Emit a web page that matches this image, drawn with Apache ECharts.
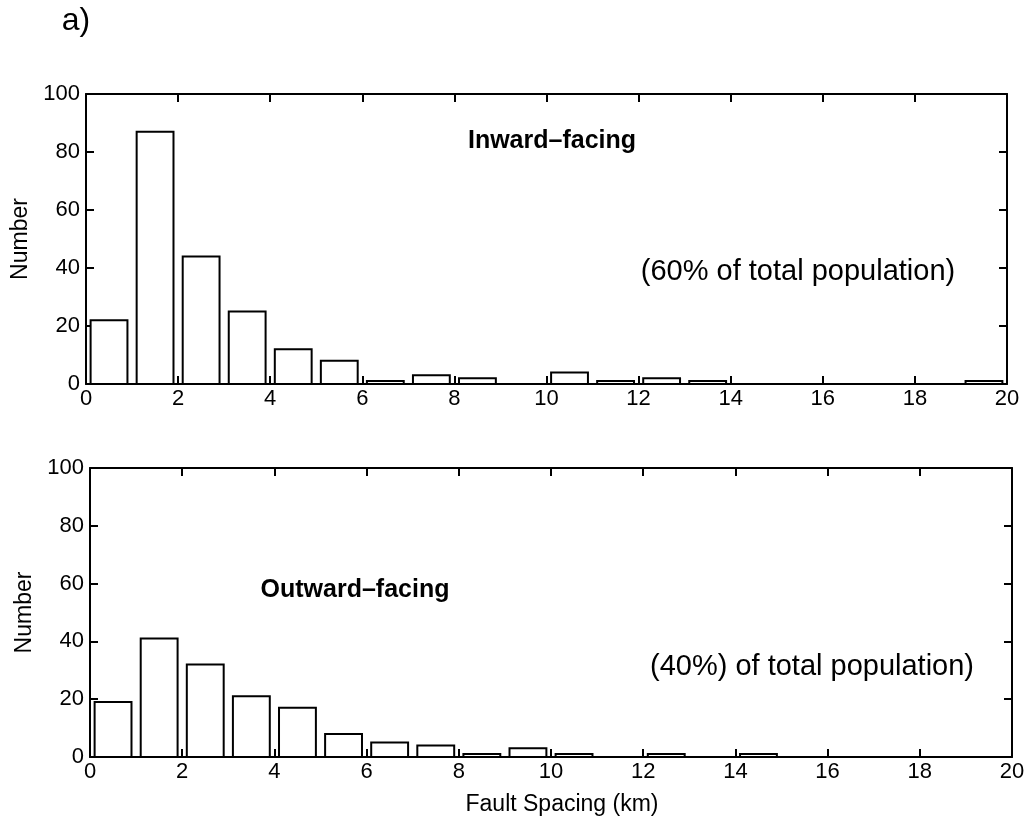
<!DOCTYPE html>
<html>
<head>
<meta charset="utf-8">
<script src="https://cdn.jsdelivr.net/npm/echarts@6/dist/echarts.min.js"></script>
<style>
html,body{margin:0;padding:0;background:#fff;}
#chart{width:1029px;height:824px;}
</style>
</head>
<body>
<div id="chart"></div>
<script>
// Bin centres (km) for the histograms
const binCenters = [0.5,1.5,2.5,3.5,4.5,5.5,6.5,7.5,8.5,9.5,10.5,11.5,12.5,13.5,14.5,15.5,16.5,17.5,18.5,19.5];
// Inward-facing fault spacing counts
const inwardCounts = [22,87,44,25,12,8,1,3,2,0,4,1,2,1,0,0,0,0,0,1];
// Outward-facing fault spacing counts
const outwardCounts = [19,41,32,21,17,8,5,4,1,3,1,0,1,0,1,0,0,0,0,0];
const xTicks = [0,2,4,6,8,10,12,14,16,18,20];
const yTicks = [0,20,40,60,80,100];

const FONT = '"Liberation Sans", Arial, Helvetica, sans-serif';
const chart = echarts.init(document.getElementById('chart'), null, {renderer:'canvas'});

function toData(counts){ return binCenters.map((c,i)=>[c, counts[i]]); }

function renderBar(params, api){
  const x = api.value(0), y = api.value(1);
  const p0 = api.coord([x - 0.4, 0]);
  const p1 = api.coord([x + 0.4, y]);
  return {
    type:'rect',
    shape:{x:p0[0], y:p1[1], width:p1[0]-p0[0], height:p0[1]-p1[1]},
    style:{fill:'#ffffff', stroke:'#000000', lineWidth:2}
  };
}

const axisLine = {show:true, onZero:false, lineStyle:{color:'#000', width:2}};
const tickStyle = {show:true, inside:true, length:8, lineStyle:{color:'#000', width:2}};
const labelStyle = {color:'#000', fontSize:22, fontFamily:FONT};

function xAx(grid, pos, showLabel, name){
  const a = {
    type:'value', gridIndex:grid, position:pos, min:0, max:20, interval:2,
    axisLine:axisLine, axisTick:tickStyle, splitLine:{show:false},
    axisLabel: showLabel ? Object.assign({margin:4}, labelStyle) : {show:false}
  };
  if (name){
    a.name = name; a.nameLocation = 'middle'; a.nameGap = 36;
    a.nameTextStyle = {color:'#000', fontSize:23, fontFamily:FONT, padding:[0,0,0,22]};
  }
  return a;
}
function yAx(grid, pos, showLabel){
  const a = {
    type:'value', gridIndex:grid, position:pos, min:0, max:100, interval:20,
    axisLine:axisLine, axisTick:tickStyle, splitLine:{show:false},
    axisLabel: showLabel ? Object.assign({margin:6}, labelStyle) : {show:false}
  };
  if (showLabel){
    a.name = 'Number'; a.nameLocation = 'middle'; a.nameGap = 52;
    a.nameTextStyle = {color:'#000', fontSize:23, fontFamily:FONT};
  }
  return a;
}

const option = {
  backgroundColor:'#ffffff',
  animation:false,
  grid:[
    {left:86, right:22, top:94, height:290},
    {left:90, right:17, top:468, height:289}
  ],
  xAxis:[
    xAx(0,'bottom',true,null),
    xAx(0,'top',false,null),
    xAx(1,'bottom',true,'Fault Spacing (km)'),
    xAx(1,'top',false,null)
  ],
  yAxis:[
    yAx(0,'left',true),
    yAx(0,'right',false),
    yAx(1,'left',true),
    yAx(1,'right',false)
  ],
  series:[
    {type:'custom', xAxisIndex:0, yAxisIndex:0, data:toData(inwardCounts), renderItem:renderBar, clip:false},
    {type:'custom', xAxisIndex:2, yAxisIndex:2, data:toData(outwardCounts), renderItem:renderBar, clip:false}
  ],
  graphic:[
    {type:'text', x:76, y:21, style:{text:'a)', fill:'#000', font:'32px ' + FONT, align:'center', verticalAlign:'middle'}},
    {type:'text', x:552, y:141, style:{text:'Inward\u2013facing', fill:'#000', font:'bold 25px ' + FONT, align:'center', verticalAlign:'middle'}},
    {type:'text', x:798, y:272, style:{text:'(60% of total population)', fill:'#000', font:'29px ' + FONT, align:'center', verticalAlign:'middle'}},
    {type:'text', x:355, y:590, style:{text:'Outward\u2013facing', fill:'#000', font:'bold 25px ' + FONT, align:'center', verticalAlign:'middle'}},
    {type:'text', x:812, y:667, style:{text:'(40%) of total population)', fill:'#000', font:'29px ' + FONT, align:'center', verticalAlign:'middle'}}
  ]
};
chart.setOption(option);
</script>
</body>
</html>
